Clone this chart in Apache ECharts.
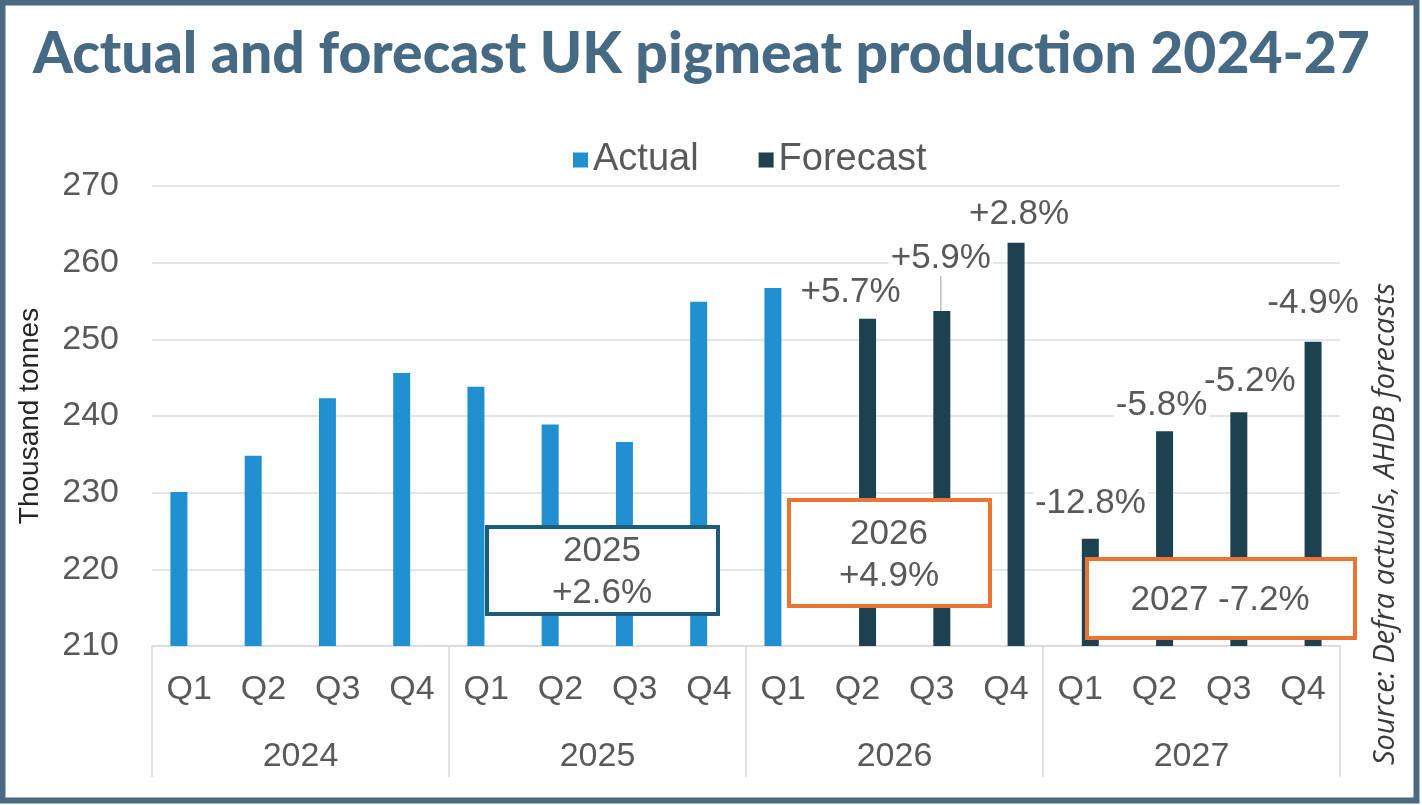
<!DOCTYPE html>
<html>
<head>
<meta charset="utf-8">
<script src="https://cdn.jsdelivr.net/npm/echarts@6/dist/echarts.min.js"></script>
<style>
  html, body { margin: 0; padding: 0; background: #fff; }
  #chart { width: 1422px; height: 805px; }
</style>
</head>
<body>
<div id="chart"></div>
<script>
// --- data ---
const quarters = ['Q1', 'Q2', 'Q3', 'Q4', 'Q1', 'Q2', 'Q3', 'Q4', 'Q1', 'Q2', 'Q3', 'Q4', 'Q1', 'Q2', 'Q3', 'Q4']
const years = ['2024', '2025', '2026', '2027']
const actual = [230.1, 234.8, 242.3, 245.6, 243.8, 238.9, 236.6, 254.9, 256.7, null, null, null, null, null, null, null]
const forecast = [null, null, null, null, null, null, null, null, null, 252.7, 253.7, 262.6, 224.0, 238.0, 240.5, 249.7]
const changeLabels = [null, null, null, null, null, null, null, null, null, '+5.7%', '+5.9%', '+2.8%', '-12.8%', '-5.8%', '-5.2%', '-4.9%']
const yearBoxes = ['2025\n+2.6%', '2026\n+4.9%', '2027 -7.2%']
const yTicks = { min: 210, max: 270, step: 10 }

const textGrey = '#595959'
const font = 'Liberation Sans, Arial, sans-serif'

// hand placement of the change labels, like the moved labels in the original
const labelNudge = {
  9: [-17, -4], 10: [-1, -30], 11: [3, -6],
  12: [0, -13], 13: [-3, -3], 14: [11, -8], 15: [0, -16]
}

const chart = echarts.init(document.getElementById('chart'))

const option = {
  backgroundColor: '#fff',
  animation: false,
  title: {
    text: 'Actual and forecast UK pigmeat production 2024-27',
    left: 28, top: 21,
    textStyle: { fontFamily: 'Lato, sans-serif', fontWeight: 900, fontSize: 57, color: '#466a84' }
  },
  legend: {
    top: 136, left: 568,
    itemWidth: 15, itemHeight: 15, itemGap: 60,
    icon: 'rect',
    textStyle: { fontFamily: font, fontSize: 38, color: textGrey },
    data: ['Actual', 'Forecast']
  },
  grid: { left: 152, right: 82, top: 186, bottom: 159 },
  xAxis: [
    {
      type: 'category',
      data: quarters,
      axisLine: { show: true, lineStyle: { color: '#d9d9d9', width: 1.5 } },
      axisTick: { show: false },
      axisLabel: { interval: 0, margin: 27, fontFamily: font, fontSize: 34, color: textGrey }
    },
    {
      type: 'category',
      data: years,
      position: 'bottom',
      axisLine: { show: false },
      axisTick: { show: true, interval: 0, length: 131, lineStyle: { color: '#d9d9d9', width: 1.5 } },
      axisLabel: { interval: 0, margin: 94, fontFamily: font, fontSize: 34, color: textGrey }
    }
  ],
  yAxis: {
    type: 'value',
    min: yTicks.min, max: yTicks.max, interval: yTicks.step,
    name: 'Thousand tonnes',
    nameLocation: 'middle',
    nameGap: 108,
    nameTextStyle: { fontFamily: font, fontSize: 28, color: '#262626' },
    axisLine: { show: false },
    axisTick: { show: false },
    axisLabel: { margin: 33, fontFamily: font, fontSize: 34, color: textGrey },
    splitLine: { lineStyle: { color: '#dcdcdc', width: 1.5 } }
  },
  series: [
    {
      name: 'Actual',
      type: 'bar',
      barWidth: 17,
      barGap: '20%',
      itemStyle: { color: '#2190d1' },
      data: actual
    },
    {
      name: 'Forecast',
      type: 'bar',
      barWidth: 17,
      itemStyle: { color: '#1d4151' },
      data: forecast.map((v, i) => i === 10 ? { value: v, labelLine: { show: true } } : v),
      label: {
        show: true,
        position: 'top',
        distance: 5,
        fontFamily: font, fontSize: 35, color: textGrey,
        backgroundColor: '#fff',
        padding: [0, 2],
        formatter: p => changeLabels[p.dataIndex] || ''
      },
      labelLine: { show: false, lineStyle: { color: '#bfbfbf', width: 1.5 } },
      labelLayout: p => {
        const n = labelNudge[p.dataIndex]
        return n ? { dx: n[0], dy: n[1] } : {}
      }
    }
  ],
  graphic: [
    // outer frame
    { type: 'rect', shape: { x: 2.5, y: 2.5, width: 1414, height: 798 }, style: { fill: 'none', stroke: '#4a6a82', lineWidth: 6 }, z: 100 },
    // year summary boxes
    { type: 'rect', shape: { x: 487, y: 527, width: 231, height: 87 }, style: { fill: '#fff', stroke: '#1f5c7a', lineWidth: 4 }, z: 50 },
    { type: 'text', x: 602, y: 572, style: { text: yearBoxes[0], align: 'center', verticalAlign: 'middle', lineHeight: 42, font: '35px ' + font, fill: textGrey }, z: 51 },
    { type: 'rect', shape: { x: 789, y: 500, width: 201, height: 106 }, style: { fill: '#fff', stroke: '#ea7434', lineWidth: 4 }, z: 50 },
    { type: 'text', x: 889, y: 555, style: { text: yearBoxes[1], align: 'center', verticalAlign: 'middle', lineHeight: 42, font: '35px ' + font, fill: textGrey }, z: 51 },
    { type: 'rect', shape: { x: 1087, y: 559, width: 268, height: 79 }, style: { fill: '#fff', stroke: '#ea7434', lineWidth: 4 }, z: 50 },
    { type: 'text', x: 1220, y: 600, style: { text: yearBoxes[2], align: 'center', verticalAlign: 'middle', font: '35px ' + font, fill: textGrey }, z: 51 },
    // source note
    {
      type: 'text', x: 1386, y: 524, rotation: Math.PI / 2,
      style: { text: 'Source: Defra actuals, AHDB forecasts', align: 'center', verticalAlign: 'middle', font: 'italic 29px "Open Sans", sans-serif', fill: '#3a3a3a' },
      z: 51
    }
  ]
}

chart.setOption(option)
</script>
</body>
</html>
